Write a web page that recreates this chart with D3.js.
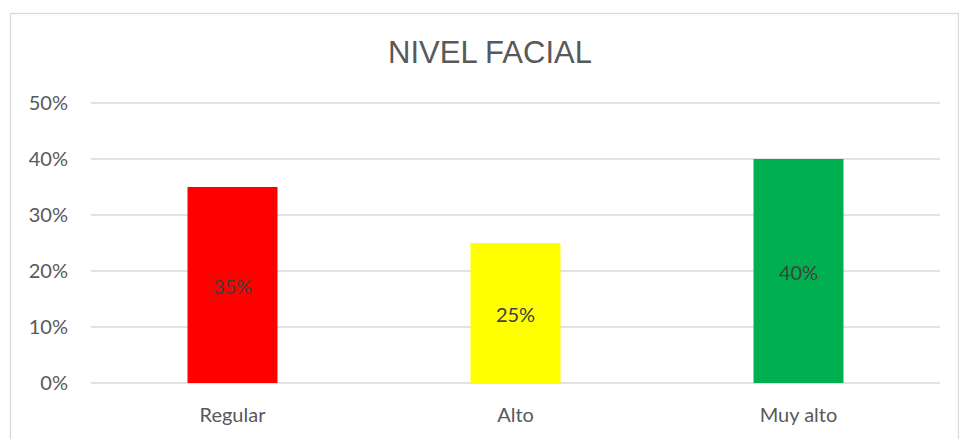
<!DOCTYPE html>
<html>
<head>
<meta charset="utf-8">
<script src="https://cdn.jsdelivr.net/npm/d3@7"></script>
<style>
  body { margin: 0; background: #fff; }
  svg { display: block; }
</style>
</head>
<body>
<svg id="chart" width="959" height="439"></svg>
<script>
"use strict";

var categories = ["Regular", "Alto", "Muy alto"];
var values = [0.35, 0.25, 0.40];
var barColors = ["#ff0000", "#ffff00", "#00b050"];
var yTicks = [0, 0.1, 0.2, 0.3, 0.4, 0.5];
var title = "NIVEL FACIAL";

var svg = d3.select("#chart");
var plotL = 91, plotR = 940, plotT = 103, plotB = 383;
var font = "Lato, 'Open Sans', sans-serif";

// chart frame
svg.append("rect")
	.attr("x", 10.5).attr("y", 13.5)
	.attr("width", 948).attr("height", 440)
	.attr("fill", "none")
	.attr("stroke", "#d9d9d9")
	.attr("stroke-width", 1.3);

var x = d3.scaleBand().domain(categories).range([plotL, plotR]).paddingInner(0.682).paddingOuter(0.341);
var y = d3.scaleLinear().domain([0, 0.5]).range([plotB, plotT]);

svg.append("text")
	.attr("x", 490).attr("y", 63)
	.attr("text-anchor", "middle")
	.attr("font-family", "Liberation Sans, Arial, sans-serif")
	.attr("font-size", 31)
	.attr("fill", "#595959")
	.text(title);

// gridlines
svg.append("g").selectAll("line")
	.data(yTicks)
	.enter().append("line")
	.attr("x1", plotL).attr("x2", plotR)
	.attr("y1", function(d){ return y(d); })
	.attr("y2", function(d){ return y(d); })
	.attr("stroke", "#d9d9d9")
	.attr("stroke-width", 1.3);

var yAxis = svg.append("g")
	.attr("transform", "translate(" + (plotL - 23) + ",0)")
	.call(d3.axisLeft(y).tickValues(yTicks).tickFormat(d3.format(".0%")).tickSize(0).tickPadding(0));
yAxis.select(".domain").remove();
yAxis.selectAll("text")
	.attr("font-family", font)
	.attr("font-size", 20)
	.attr("fill", "#595959");

var xAxis = svg.append("g")
	.attr("transform", "translate(0," + plotB + ")")
	.call(d3.axisBottom(x).tickSize(0).tickPadding(25));
xAxis.select(".domain").remove();
xAxis.selectAll("text")
	.attr("font-family", font)
	.attr("font-size", 20)
	.attr("fill", "#595959");

svg.append("g").selectAll("rect")
	.data(values)
	.enter().append("rect")
	.attr("x", function(d, i){ return x(categories[i]); })
	.attr("y", function(d){ return y(d); })
	.attr("width", x.bandwidth())
	.attr("height", function(d){ return plotB - y(d); })
	.attr("fill", function(d, i){ return barColors[i]; });

svg.append("g").selectAll("text")
	.data(values)
	.enter().append("text")
	.attr("x", function(d, i){ return x(categories[i]) + x.bandwidth() / 2; })
	.attr("y", function(d){ return (y(d) + plotB) / 2 + 2; })
	.attr("dy", "0.35em")
	.attr("text-anchor", "middle")
	.attr("font-family", font)
	.attr("font-size", 20)
	.attr("fill", "#404040")
	.text(function(d){ return d3.format(".0%")(d); });
</script>
</body>
</html>
